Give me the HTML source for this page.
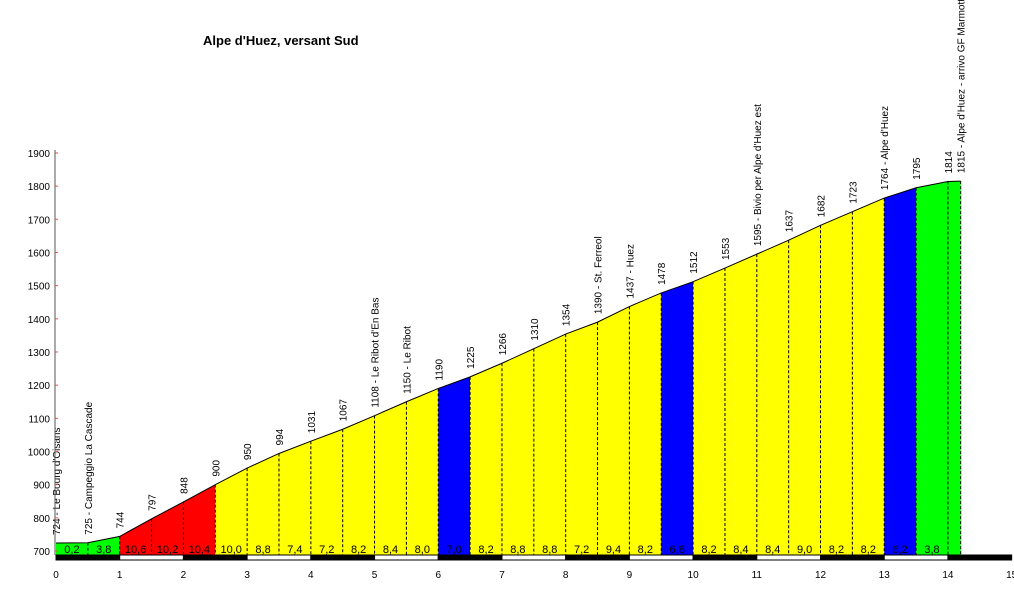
<!DOCTYPE html>
<html><head><meta charset="utf-8"><style>
body{margin:0;background:#fff;}
svg{display:block;font-family:"Liberation Sans",sans-serif;}
</style></head><body>
<svg width="1014" height="600">
<text x="203" y="45" font-size="13" font-weight="bold">Alpe d'Huez, versant   Sud</text>
<g id="plot"></g>
</svg>
<script>
const kms=[0,0.5,1,1.5,2,2.5,3,3.5,4,4.5,5,5.5,6,6.5,7,7.5,8,8.5,9,9.5,10,10.5,11,11.5,12,12.5,13,13.5,14,14.2];
const elevations=[724,725,744,797,848,900,950,994,1031,1067,1108,1150,1190,1225,1266,1310,1354,1390,1437,1478,1512,1553,1595,1637,1682,1723,1764,1795,1814,1815];
const pointLabels=["724 - Le Bourg d'Oisans","725 - Campeggio La Cascade","744","797","848","900","950","994","1031","1067","1108 - Le Ribot d'En Bas","1150 - Le Ribot","1190","1225","1266","1310","1354","1390 - St. Ferreol","1437 - Huez","1478","1512","1553","1595 - Bivio per Alpe d'Huez est","1637","1682","1723","1764 - Alpe d'Huez","1795","1814","1815 - Alpe d'Huez - arrivo GF Marmott"];
const gradients=["0,2","3,8","10,6","10,2","10,4","10,0","8,8","7,4","7,2","8,2","8,4","8,0","7,0","8,2","8,8","8,8","7,2","9,4","8,2","6,8","8,2","8,4","8,4","9,0","8,2","8,2","6,2","3,8"];
const segColors=["#00ff00","#00ff00","#ff0000","#ff0000","#ff0000","#ffff00","#ffff00","#ffff00","#ffff00","#ffff00","#ffff00","#ffff00","#0000ff","#ffff00","#ffff00","#ffff00","#ffff00","#ffff00","#ffff00","#0000ff","#ffff00","#ffff00","#ffff00","#ffff00","#ffff00","#ffff00","#0000ff","#00ff00"];
const xTicks=[0,1,2,3,4,5,6,7,8,9,10,11,12,13,14,15];
const yTicks=[700,800,900,1000,1100,1200,1300,1400,1500,1600,1700,1800,1900];

const X=k=>56+k*63.71;
const Y=e=>551-(e-700)*0.3317;
const BASE=555;
const NS="http://www.w3.org/2000/svg";
const g=document.getElementById('plot');
function mk(t,a,p){const e=document.createElementNS(NS,t);for(const k in a)e.setAttribute(k,a[k]);(p||g).appendChild(e);return e;}

// segments
const nseg=gradients.length;
for(let i=0;i<nseg;i++){
  const x1=X(kms[i]),x2=X(kms[i+1]);
  const last=(i===nseg-1);
  const x3=last?X(kms[i+2]):x2;
  let pts=`${x1},${BASE} ${x1},${Y(elevations[i])} ${x2},${Y(elevations[i+1])}`;
  if(last)pts+=` ${x3},${Y(elevations[i+2])} ${x3},${BASE}`;else pts+=` ${x2},${BASE}`;
  const p=mk('polygon',{points:pts,fill:segColors[i],stroke:'none'});
  
  
  const t=mk('text',{x:(x1+x2)/2,y:BASE-2,'font-size':'11','text-anchor':'middle',fill:'#000'});
  t.textContent=gradients[i];
  
  
}
// profile line
let lp=kms.map((k,i)=>X(k)+','+Y(elevations[i])).join(' ');
const pl=mk('polyline',{points:lp,fill:'none',stroke:'#000','stroke-width':'1'});


// dashed verticals and point labels
for(let i=0;i<kms.length;i++){
  const x=X(kms[i]),y=Y(elevations[i]);
  if(i>0){
    const l=mk('line',{x1:x,x2:x,y1:y,y2:BASE,stroke:'#000','stroke-dasharray':'3,2','stroke-width':'1'});
    
    
  }
  const t=mk('text',{transform:`translate(${x+4},${y-8}) rotate(-90)`,'font-size':'10',fill:'#000'});
  t.textContent=pointLabels[i];
  
  
}
// bottom bar
for(let k=0;k<15;k++){
  const r=mk('rect',{x:X(k),y:BASE,width:63.71,height:5,fill:(k%2===0)?'#000':'#fff',stroke:'#000','stroke-width':'1'});
  
  
}
// y axis
const ax=mk('line',{x1:55,x2:55,y1:150,y2:BASE,stroke:'#555','stroke-width':'1'});


yTicks.forEach(v=>{
  const tk=mk('line',{x1:55,x2:58,y1:Y(v),y2:Y(v),stroke:'#f44'});
  
  
  const t=mk('text',{x:50,y:Y(v)+4,'font-size':'10','text-anchor':'end'});
  t.textContent=v;
  
  
});
xTicks.forEach(v=>{
  const t=mk('text',{x:X(v),y:578,'font-size':'10','text-anchor':'middle'});
  t.textContent=v;
  
  
});
</script>
</body></html>
